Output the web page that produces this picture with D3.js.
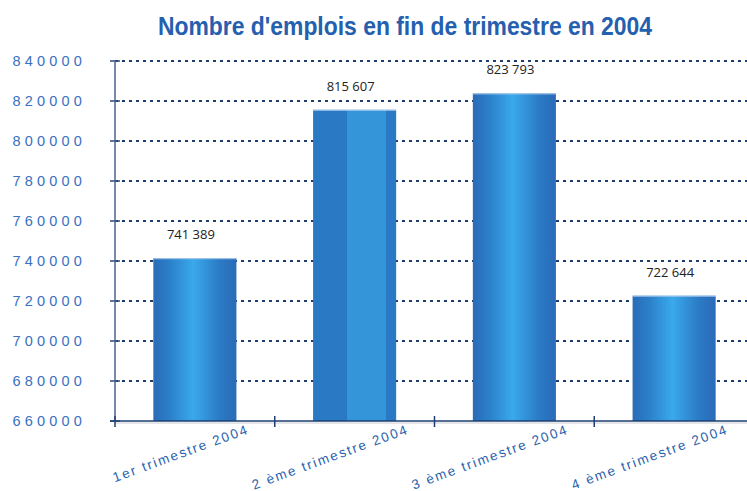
<!DOCTYPE html>
<html>
<head>
<meta charset="utf-8">
<script src="https://cdn.jsdelivr.net/npm/d3@7"></script>
<style>
  body { margin: 0; background: #fff; }
  svg { display: block; }
</style>
</head>
<body>
<div id="chart"></div>
<script>
const categories = ['1er trimestre 2004', '2 ème trimestre 2004', '3 ème trimestre 2004', '4 ème trimestre 2004'];
const values = [741389, 815607, 823793, 722644];
const valueLabels = ['741 389', '815 607', '823 793', '722 644'];
const yTicks = [660000, 680000, 700000, 720000, 740000, 760000, 780000, 800000, 820000, 840000];

const width = 747, height = 491;
const plotLeft = 115, plotRight = 754, plotTop = 61, plotBottom = 421;

const svg = d3.select('#chart').append('svg')
    .attr('width', width)
    .attr('height', height);

const defs = svg.append('defs');
const grad = defs.append('linearGradient').attr('id', 'barGrad');
grad.append('stop').attr('offset', '0%').attr('stop-color', '#2a6bb7');
grad.append('stop').attr('offset', '20%').attr('stop-color', '#2b80c9');
grad.append('stop').attr('offset', '48%').attr('stop-color', '#3aa9ec');
grad.append('stop').attr('offset', '80%').attr('stop-color', '#2b7ac5');
grad.append('stop').attr('offset', '100%').attr('stop-color', '#2a6bb7');

// the second bar is drawn flat, with a lighter middle strip
const flat = defs.append('linearGradient').attr('id', 'flatGrad');
flat.append('stop').attr('offset', '0%').attr('stop-color', '#2a79c4');
flat.append('stop').attr('offset', '41%').attr('stop-color', '#2a79c4');
flat.append('stop').attr('offset', '41%').attr('stop-color', '#3595d9');
flat.append('stop').attr('offset', '88%').attr('stop-color', '#3595d9');
flat.append('stop').attr('offset', '88%').attr('stop-color', '#2a79c4');
flat.append('stop').attr('offset', '100%').attr('stop-color', '#2a79c4');

const x = d3.scaleBand().domain(categories).range([plotLeft, plotRight]).paddingInner(0.48).paddingOuter(0.24);
const xOuter = d3.scaleBand().domain(categories).range([plotLeft, plotRight]);
const y = d3.scaleLinear().domain([660000, 840000]).range([plotBottom, plotTop]);

// title (condensed face is not installed, so squeeze it to the reference width)
svg.append('text')
    .attr('x', 158).attr('y', 35)
    .attr('textLength', 494)
    .attr('lengthAdjust', 'spacingAndGlyphs')
    .attr('font-family', '"Liberation Sans", Arial, sans-serif')
    .attr('font-weight', 'bold')
    .attr('font-size', 26)
    .attr('fill', '#2560ae')
    .text("Nombre d'emplois en fin de trimestre en 2004");

// dotted grid
svg.append('g').selectAll('line')
    .data(yTicks.slice(1))
    .join('line')
    .attr('x1', plotLeft).attr('x2', width)
    .attr('y1', d => y(d)).attr('y2', d => y(d))
    .attr('stroke', '#1d3f70')
    .attr('stroke-width', 2)
    .attr('stroke-dasharray', '3,4');

// y tick labels
svg.append('g').selectAll('text')
    .data(yTicks)
    .join('text')
    .attr('x', 86)
    .attr('y', d => y(d) + 5)
    .attr('text-anchor', 'end')
    .attr('font-family', '"Liberation Sans", Arial, sans-serif')
    .attr('font-size', 14.5)
    .attr('letter-spacing', 4.2)
    .attr('fill', '#3a70c0')
    .text(d => d3.format('d')(d));

// y tick marks
svg.append('g').selectAll('line')
    .data(yTicks)
    .join('line')
    .attr('x1', plotLeft - 5).attr('x2', plotLeft + 5)
    .attr('y1', d => y(d)).attr('y2', d => y(d))
    .attr('stroke', '#2c4a78')
    .attr('stroke-width', 1.5);

// bars
svg.append('g').selectAll('rect')
    .data(values)
    .join('rect')
    .attr('x', (d, i) => x(categories[i]))
    .attr('width', x.bandwidth())
    .attr('y', d => y(d))
    .attr('height', d => plotBottom - y(d))
    .attr('fill', (d, i) => i === 1 ? 'url(#flatGrad)' : 'url(#barGrad)');

// bar top highlight
svg.append('g').selectAll('line')
    .data(values)
    .join('line')
    .attr('x1', (d, i) => x(categories[i]))
    .attr('x2', (d, i) => x(categories[i]) + x.bandwidth())
    .attr('y1', d => y(d) + 0.5).attr('y2', d => y(d) + 0.5)
    .attr('stroke', '#a9c8ea')
    .attr('stroke-width', 1);

// value labels
svg.append('g').selectAll('text')
    .data(values)
    .join('text')
    .attr('x', (d, i) => x(categories[i]) + x.bandwidth() / 2 - 4)
    .attr('y', d => y(d) - 19)
    .attr('text-anchor', 'middle')
    .attr('font-family', '"Open Sans", sans-serif')
    .attr('font-size', 13)
    .attr('fill', '#222')
    .text((d, i) => valueLabels[i]);

// axes lines
svg.append('line')
    .attr('x1', plotLeft).attr('x2', plotLeft)
    .attr('y1', plotTop).attr('y2', plotBottom)
    .attr('stroke', '#4a6690').attr('stroke-width', 1.5);
svg.append('line')
    .attr('x1', plotLeft).attr('x2', width)
    .attr('y1', plotBottom + 2).attr('y2', plotBottom + 2)
    .attr('stroke', '#c8ccd2').attr('stroke-width', 1);
svg.append('line')
    .attr('x1', plotLeft - 5).attr('x2', width)
    .attr('y1', plotBottom).attr('y2', plotBottom)
    .attr('stroke', '#1d3f70').attr('stroke-width', 1.5);

// category separators
svg.append('g').selectAll('line')
    .data(categories)
    .join('line')
    .attr('x1', d => xOuter(d)).attr('x2', d => xOuter(d))
    .attr('y1', plotBottom - 5).attr('y2', plotBottom + 6)
    .attr('stroke', '#1d3f70').attr('stroke-width', 1.5);

// category labels
svg.append('g').selectAll('text')
    .data(categories)
    .join('text')
    .attr('transform', d => `translate(${xOuter(d) + xOuter.bandwidth() / 2 + 55},${plotBottom + 12}) rotate(-20)`)
    .attr('text-anchor', 'end')
    .attr('font-family', '"Liberation Sans", Arial, sans-serif')
    .attr('font-size', 13.5)
    .attr('letter-spacing', 1.9)
    .attr('fill', '#2a5fad')
    .text(d => d);
</script>
</body>
</html>
